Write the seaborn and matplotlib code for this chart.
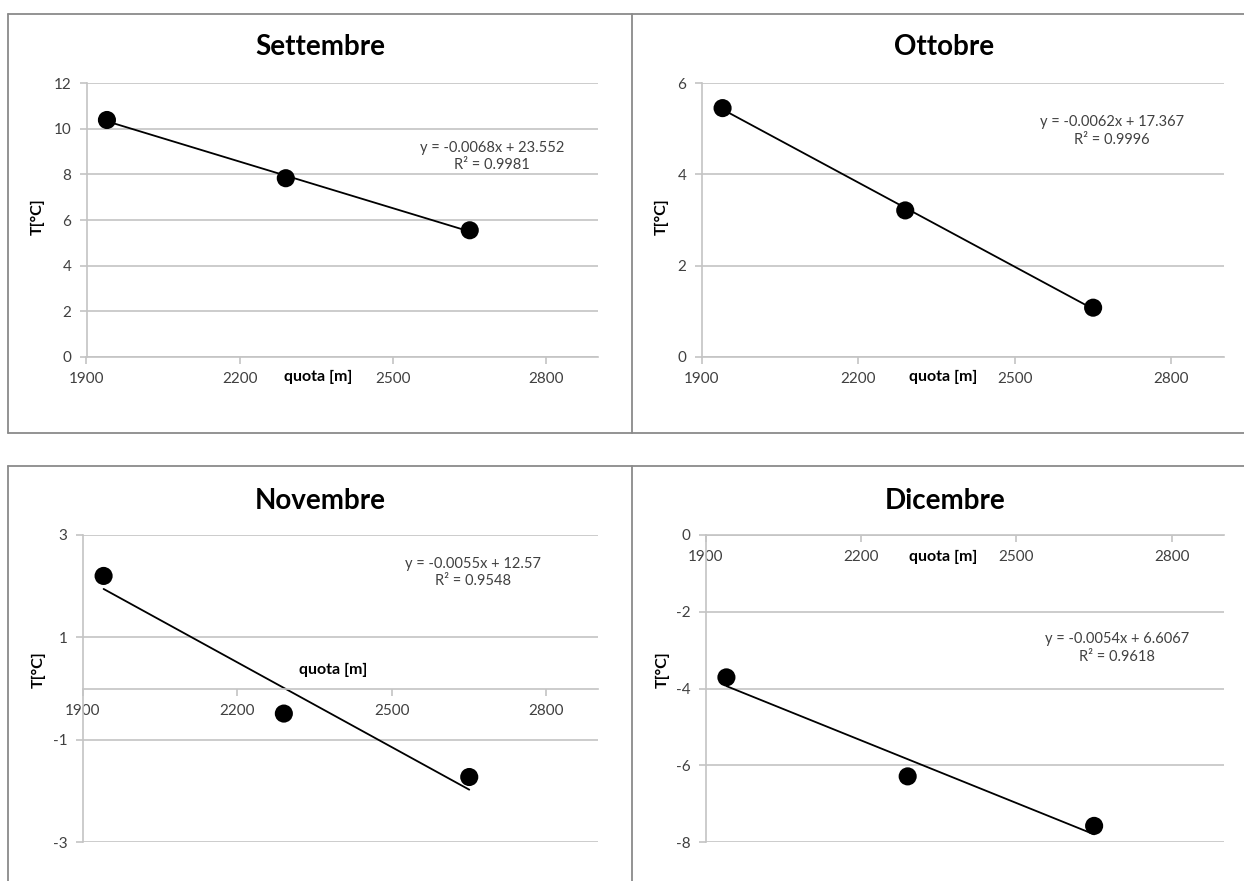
import numpy as np
import matplotlib
matplotlib.use("Agg")
import matplotlib.pyplot as plt
from matplotlib.lines import Line2D
import seaborn as sns

# ---- data ----
quota = [1940, 2290, 2650]
t_settembre = [10.38, 7.83, 5.55]
t_ottobre = [5.45, 3.21, 1.08]
t_novembre = [2.20, -0.49, -1.73]
t_dicembre = [-3.71, -6.29, -7.58]

titles = ["Settembre", "Ottobre", "Novembre", "Dicembre"]
equations = [
    "y = -0.0068x + 23.552\nR² = 0.9981",
    "y = -0.0062x + 17.367\nR² = 0.9996",
    "y = -0.0055x + 12.57\nR² = 0.9548",
    "y = -0.0054x + 6.6067\nR² = 0.9618",
]
x_ticks = [1900, 2200, 2500, 2800]
y_ticks_set = [0, 2, 4, 6, 8, 10, 12]
y_ticks_ott = [0, 2, 4, 6]
y_ticks_nov = [-3, -1, 1, 3]
y_ticks_dic = [-8, -6, -4, -2, 0]

sns.set_style("white")
plt.rcParams["font.family"] = ["Lato", "DejaVu Sans"]

W, H = 1244, 881
fig = plt.figure(figsize=(W / 100, H / 100), dpi=100)

def px_axes(left, right, top, bottom):
    return [left / W, 1 - bottom / H, (right - left) / W, (bottom - top) / H]

panels = [
    dict(rect=px_axes(86.5, 597.5, 83, 357), y=t_settembre, yt=y_ticks_set, ylim=(0, 12),
         title=(0.457, 1.131), xlab=(0.453, -0.073), ylab=(-0.095, 0.511), eq=(0.7935, 0.732)),
    dict(rect=px_axes(701.7, 1223.6, 83, 357), y=t_ottobre, yt=y_ticks_ott, ylim=(0, 6),
         title=(0.465, 1.131), xlab=(0.462, -0.073), ylab=(-0.076, 0.511), eq=(0.786, 0.825)),
    dict(rect=px_axes(83, 598, 535, 842), y=t_novembre, yt=y_ticks_nov, ylim=(-3, 3),
         title=(0.460, 1.111), xlab=(0.485, 0.560), ylab=(-0.087, 0.560), eq=(0.757, 0.878)),
    dict(rect=px_axes(705.7, 1223.6, 535, 842), y=t_dicembre, yt=y_ticks_dic, ylim=(-8, 0),
         title=(0.462, 1.111), xlab=(0.458, 0.928), ylab=(-0.084, 0.560), eq=(0.794, 0.632)),
]

grid_c = "#C4C4C4"
for p, title, eq in zip(panels, titles, equations):
    ax = fig.add_axes(p["rect"])
    sns.regplot(x=quota, y=p["y"], ax=ax, ci=None, color="black",
                scatter_kws=dict(s=170, zorder=3, edgecolor="none", alpha=1),
                line_kws=dict(lw=1.3, zorder=2))
    ax.set_xlim(1900, 2900)
    ax.set_ylim(*p["ylim"])
    ax.set_xticks(x_ticks)
    ax.set_yticks(p["yt"])
    ax.set_yticklabels([str(v) for v in p["yt"]])
    ax.yaxis.grid(True, color=grid_c, lw=1.2)
    ax.xaxis.grid(False)
    ax.set_axisbelow(True)
    for s in ["top", "right"]:
        ax.spines[s].set_visible(False)
    ax.spines["bottom"].set_position(("data", 0))
    ax.spines["bottom"].set_color(grid_c)
    ax.spines["left"].set_color(grid_c)
    ax.spines["bottom"].set_linewidth(1.2)
    ax.spines["left"].set_linewidth(1.2)
    ax.tick_params(axis="x", direction="out", length=5, width=1.2, color=grid_c,
                   labelsize=11, labelcolor="#404040", pad=6, bottom=True)
    ax.tick_params(axis="y", direction="out", length=5, width=1.2, color=grid_c,
                   labelsize=11, labelcolor="#404040", pad=6, left=True)
    ax.set_xlabel("quota [m]", fontsize=11.5, fontweight="bold", color="black")
    ax.xaxis.set_label_coords(*p["xlab"])
    ax.xaxis.label.set_va("center")
    ax.set_ylabel("T[°C]", fontsize=11.5, fontweight="bold", color="black")
    ax.yaxis.set_label_coords(*p["ylab"])
    ax.yaxis.label.set_va("center")
    ax.text(p["title"][0], p["title"][1], title, transform=ax.transAxes,
            ha="center", va="center", fontsize=20, fontweight="bold", color="black")
    ax.text(p["eq"][0], p["eq"][1], eq, transform=ax.transAxes, ha="center", va="center",
            fontsize=10.5, color="#404040", linespacing=1.3, multialignment="center")

# panel frames (chart-area borders)
def fline(x0, y0, x1, y1):
    fig.add_artist(Line2D([x0 / W, x1 / W], [1 - y0 / H, 1 - y1 / H],
                          transform=fig.transFigure, color="#8A8A8A", lw=1.3))

fline(8, 13.5, W, 13.5)
fline(8, 432.5, W, 432.5)
fline(8, 13.5, 8, 432.5)
fline(632, 13.5, 632, 432.5)
fline(8, 466, W, 466)
fline(8, 466, 8, H)
fline(632, 466, 632, H)

fig.savefig("out.png", dpi=100, facecolor="white")
